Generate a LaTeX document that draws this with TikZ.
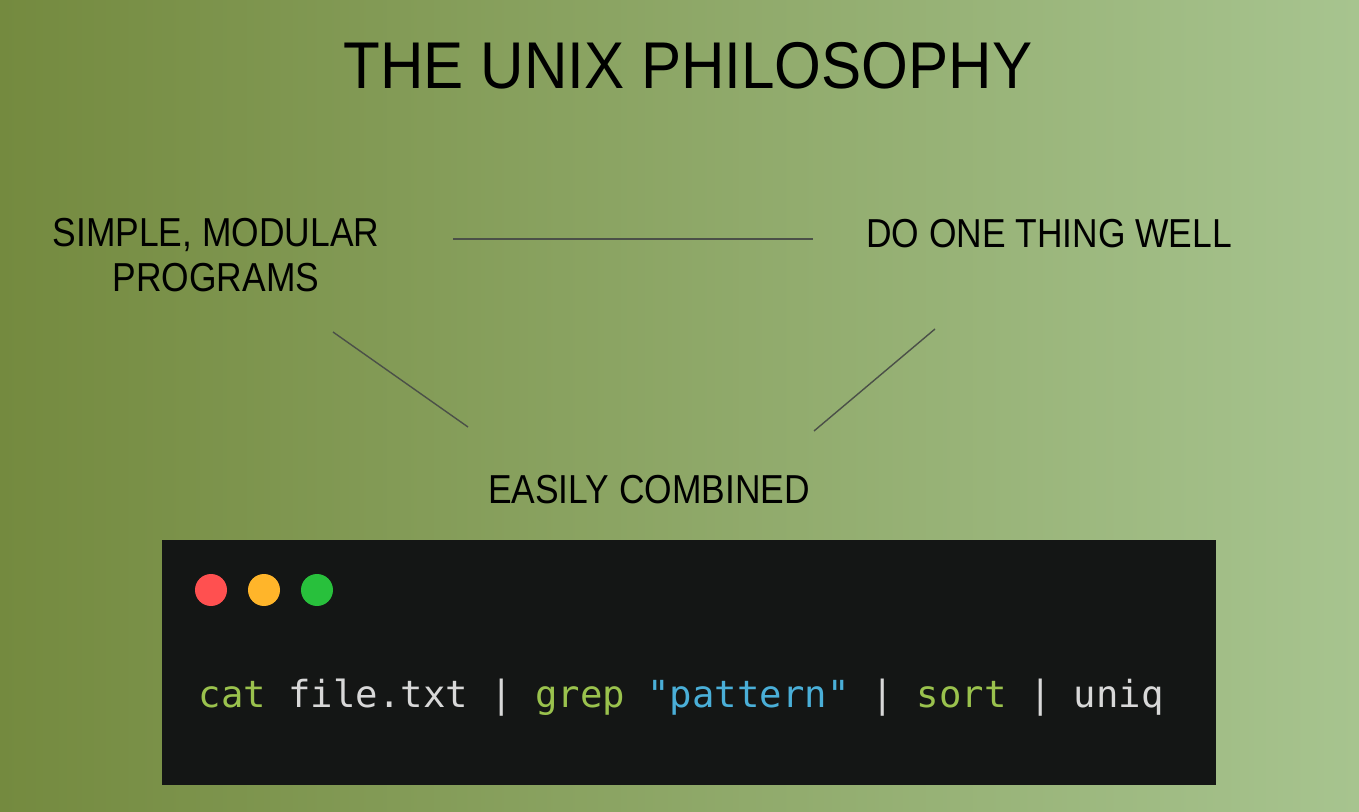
\documentclass[tikz,border=0pt]{standalone}
\usepackage{fontspec}
\setmainfont{Liberation Sans}
\newfontfamily\titlefont[FakeStretch=0.91]{Liberation Sans}
\newfontfamily\labelfont[FakeStretch=0.875]{Liberation Sans}
\newfontfamily\codefont{DejaVu Sans Mono}
\usetikzlibrary{positioning}
\definecolor{bgleft}{HTML}{748A3F}
\definecolor{bgright}{HTML}{A7C48F}
\definecolor{linkgray}{HTML}{4B5048}
\definecolor{termbg}{HTML}{141615}
\definecolor{dotred}{HTML}{FF5050}
\definecolor{dotorange}{HTML}{FFB52A}
\definecolor{dotgreen}{HTML}{28C03C}
\definecolor{cmdgreen}{HTML}{9AC24D}
\definecolor{codewhite}{HTML}{D8D8D8}
\definecolor{strblue}{HTML}{4AAFD8}
\tikzset{
  principle/.style={inner sep=0pt, align=center, text=black,
    font=\labelfont\fontsize{11.5}{12.8}\selectfont},
  link/.style={draw=linkgray, line width=0.4pt}
}

\begin{document}
\begin{tikzpicture}[x=0.01cm, y=-0.01cm]
            % Background
            \shade[left color=bgleft, right color=bgright] (0,0) rectangle (1359,812);
            \useasboundingbox (0,0) rectangle (1359,812);

            % Title
            \node[anchor=base, inner sep=0pt, font=\titlefont\fontsize{18.8}{22}\selectfont] (title) at (688,88) {THE UNIX PHILOSOPHY};

            % Principles
            \node[principle, anchor=north] (simple) at (216,218) {SIMPLE, MODULAR\\PROGRAMS};
            \node[principle, anchor=base] (onething) at (1049,248) {DO ONE THING WELL};
            \node[principle, anchor=base] (combined) at (649,503) {EASILY COMBINED};

            % Links between principles
            \coordinate (topleft) at (453,239);
            \coordinate (topright) at (813,239);
            \coordinate (leftup) at (333,332);
            \coordinate (leftdown) at (468,427);
            \coordinate (rightup) at (935,329);
            \coordinate (rightdown) at (814,431);
            \draw[link] (topleft) -- (topright);
            \draw[link] (leftup) -- (leftdown);
            \draw[link] (rightup) -- (rightdown);

            % Terminal window
            \fill[termbg] (162,540) rectangle (1216,785);
            \foreach \x/\c in {211/dotred, 264/dotorange, 317/dotgreen} {
                \fill[\c] (\x,590) circle (16);
            }

            % Pipeline
            \node[anchor=base west, inner sep=0pt, font=\codefont\fontsize{10.6}{12}\selectfont] (pipeline) at (198,708)
              {\color{cmdgreen}cat \color{codewhite}file.txt | \color{cmdgreen}grep \color{strblue}"pattern" \color{codewhite}| \color{cmdgreen}sort \color{codewhite}| uniq};

        \end{tikzpicture}
\end{document}
